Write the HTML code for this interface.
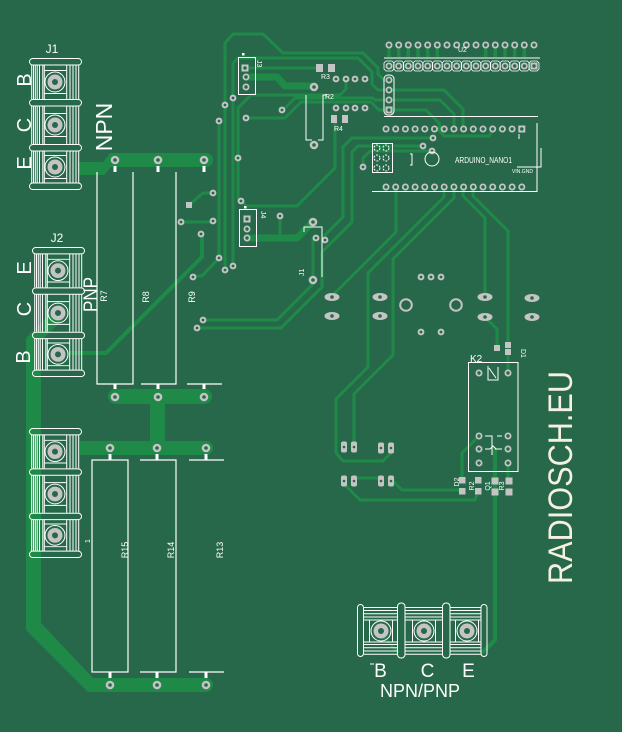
<!DOCTYPE html>
<html><head><meta charset="utf-8">
<style>
html,body{margin:0;padding:0;background:#27684a;}
svg{display:block;}
text{font-family:"Liberation Sans",sans-serif;fill:#fff;}
</style></head><body>
<svg width="622" height="732" viewBox="0 0 622 732" xmlns="http://www.w3.org/2000/svg">
<defs>
<g id="v"><circle r="3.4" fill="#c4c4c4"/><circle r="1.4" fill="#27684a"/></g>
<g id="p"><circle r="3.5" fill="#c4c4c4"/><circle r="1.7" fill="#27684a"/></g>
<g id="ps"><rect x="-3.5" y="-3.5" width="7" height="7" fill="#c4c4c4"/><circle r="1.7" fill="#27684a"/></g>
<g id="rp"><circle r="4.3" fill="#c4c4c4"/><circle r="1.8" fill="#27684a"/></g>
<g id="ov"><ellipse rx="7.5" ry="4" fill="#c4c4c4"/><circle r="1.8" fill="#27684a"/></g>
<g id="oct"><polygon points="-3,-5 3,-5 5,-3 5,3 3,5 -3,5 -5,3 -5,-3" fill="none" stroke="#fff" stroke-width="0.8"/></g>
<g id="sp"><rect x="-3" y="-5.5" width="6" height="11" rx="2" fill="#c4c4c4"/><circle r="1.3" fill="#27684a"/></g>
<g id="tbv">
<g fill="none" stroke="#fff" stroke-width="1">
<rect x="0.5" y="0.5" width="52" height="6.5" rx="3.2"/>
<rect x="0.5" y="41.5" width="52" height="6.5" rx="3.2"/>
<rect x="0.5" y="86.5" width="52" height="6.5" rx="3.2"/>
<rect x="0.5" y="125" width="52" height="6.5" rx="3.2"/>
<path d="M2.7 7V41M4.5 7V41M6.3 7V41M8.2 7V41M10.5 7V41M13.8 7V41M15.3 7V41M37.7 7V41M41 7V41M44 7V41M47 7V41M49.7 7V41M15.3 12.5H37.7M15.3 35.5H37.7M2.7 48V86M4.5 48V86M6.3 48V86M8.2 48V86M10.5 48V86M13.8 48V86M15.3 48V86M37.7 48V86M41 48V86M44 48V86M47 48V86M49.7 48V86M15.3 55.5H37.7M15.3 78.5H37.7M2.7 93V125M4.5 93V125M6.3 93V125M8.2 93V125M10.5 93V125M13.8 93V125M15.3 93V125M37.7 93V125M41 93V125M44 93V125M47 93V125M49.7 93V125M15.3 97.5H37.7M15.3 120.5H37.7"/>
<circle cx="26" cy="24" r="10"/><circle cx="26" cy="67" r="10"/><circle cx="26" cy="109" r="10"/>
</g>
<circle cx="26" cy="24" r="7.5" fill="#c4c4c4"/><circle cx="26" cy="24" r="3" fill="#27684a"/>
<circle cx="26" cy="67" r="7.5" fill="#c4c4c4"/><circle cx="26" cy="67" r="3" fill="#27684a"/>
<circle cx="26" cy="109" r="7.5" fill="#c4c4c4"/><circle cx="26" cy="109" r="3" fill="#27684a"/>
</g>
<g id="tbh">
<g fill="none" stroke="#fff" stroke-width="1">
<rect x="0.5" y="0.5" width="6" height="52" rx="3"/>
<rect x="40.5" y="-1" width="7.5" height="55" rx="3.5"/>
<rect x="85.5" y="-1" width="7.5" height="55" rx="3.5"/>
<rect x="124" y="0.5" width="6" height="52" rx="3"/>
<path d="M7 3.5H40M7 6.5H40M7 9.7H40M7 13H40M7 16H40M7 38H40M7 40.5H40M7 43.7H40M7 47H40M7 50.3H40M12.5 16V38M35.5 16V38M48 3.5H85M48 6.5H85M48 9.7H85M48 13H85M48 16H85M48 38H85M48 40.5H85M48 43.7H85M48 47H85M48 50.3H85M55.5 16V38M78.5 16V38M93 3.5H124M93 6.5H124M93 9.7H124M93 13H124M93 16H124M93 38H124M93 40.5H124M93 43.7H124M93 47H124M93 50.3H124M98.5 16V38M121.5 16V38"/>
<circle cx="24" cy="27" r="10"/><circle cx="67" cy="27" r="10"/><circle cx="110" cy="27" r="10"/>
</g>
<circle cx="24" cy="27" r="7.5" fill="#c4c4c4"/><circle cx="24" cy="27" r="3" fill="#27684a"/>
<circle cx="67" cy="27" r="7.5" fill="#c4c4c4"/><circle cx="67" cy="27" r="3" fill="#27684a"/>
<circle cx="110" cy="27" r="7.5" fill="#c4c4c4"/><circle cx="110" cy="27" r="3" fill="#27684a"/>
</g>
</defs>

<rect width="622" height="732" fill="#27684a"/>

<!-- thin traces -->
<g fill="none" stroke="#1f8a48" stroke-width="3" stroke-linejoin="round" stroke-linecap="round">
<path d="M225,270V43L233,34H263L283,53H363L378,68V74L384,80H389"/>
<path d="M233,266V63L238,58H358L372,72V84L378,90H389"/>
<path d="M247,118H285L301,102H371L379,110H389"/>
<path d="M282,111L295,98H373L375,100H389"/>
<path d="M238,200V108L251,95H340L346,89V79"/>
<path d="M238,198L246,206H297L335,168V120"/>
<path d="M219,121V258"/>
<path d="M213,193H203L189,205"/>
<path d="M181,222H213"/>
<path d="M219,258L202,276H193"/>
<path d="M203,320H277L313,284V238"/>
<path d="M197,328H281L322,287V252L352,222V152L358,146H423"/>
<path d="M433,138H352L343,147V217L325,235V240"/>
<path d="M432,151H370L363,158V167"/>
<path d="M247,68H320"/>
<path d="M280,216V238"/>
<path d="M396,187V232L332,296"/>
<path d="M444,187V197L368,273V367L336,399V453L343,461H383L391,453V448"/>
<path d="M454,187V198L393,259V355L354,394V447"/>
<path d="M463,187V196L485,218V297"/>
<path d="M473,187V196L508,231V373"/>
<path d="M485,317L497,329V348"/>
<path d="M389,90H444L463,109V129"/>
<path d="M389,100H440L454,114V129"/>
<path d="M389,110H426L439.5,123.5V131L444,136H489L493,130"/>
<path d="M392,480L402,490H462"/>
<path d="M344,484L360,500H475L478,492"/>
<path d="M354,478H381"/>
<path d="M462,480V453L479,436"/>
<path d="M508,463V481"/>
<path d="M383,637L398,652"/>
<path d="M495,449V640L483,652" stroke-width="4"/>
<path d="M202,234V257L106,353H70" stroke-width="4"/>
<path d="M247,77H277L285,86H314" stroke-width="7"/>
<path d="M247,238H297L313,222" stroke-width="7"/>
<path d="M389,45V57M398.7,45V57M408.3,45V57M418,45V57M427.7,45V57M437.3,45V57M485.7,45V57M495.3,45V57M505,45V57M514.7,45V57M524.3,45V57" stroke-width="3.5" stroke-linecap="butt"/>
</g>

<!-- thick bands -->
<g fill="#1f8a48">
<path d="M78,162H103L110,153H206A7,7 0 0 1 206,167H111L104,175H78Z"/>
<rect x="108" y="389" width="104" height="15" rx="7.5"/>
<rect x="150" y="397" width="15" height="51"/>
<path d="M80,441H206A7,7 0 0 1 206,455H80Z"/>
<path d="M26,338L52,312L62,320L41,341V623L93,678H206A7,7 0 0 1 206,692H88L26,630Z"/>
</g>

<!-- terminal blocks -->
<use href="#tbv" x="29" y="58"/>
<g transform="translate(32,247) scale(1,0.985)"><use href="#tbv"/></g>
<g transform="translate(29,428) scale(1,0.985)"><use href="#tbv"/></g>
<use href="#tbh" x="357" y="604"/>

<!-- resistor pads -->
<use href="#rp" x="115" y="160"/><use href="#rp" x="158" y="160"/><use href="#rp" x="204" y="160"/>
<use href="#rp" x="115" y="397"/><use href="#rp" x="158" y="397"/><use href="#rp" x="204" y="397"/>
<use href="#rp" x="110" y="448"/><use href="#rp" x="157" y="448"/><use href="#rp" x="206" y="448"/>
<use href="#rp" x="110" y="685"/><use href="#rp" x="157" y="685"/><use href="#rp" x="206" y="685"/>

<!-- resistor silk -->
<g fill="none" stroke="#fff" stroke-width="1.2">
<path d="M97,172V384H133V172M176,172V384H141M187,384H222"/>
<rect x="92" y="460" width="36" height="212"/>
<path d="M140,460H176V672H140M189,460H224M189,672H224"/>
</g>
<g fill="#fff">
<rect x="113.5" y="166" width="3" height="6"/><rect x="156.5" y="166" width="3" height="6"/><rect x="202.5" y="166" width="3" height="6"/>
<rect x="113.5" y="384" width="3" height="5"/><rect x="156.5" y="384" width="3" height="5"/><rect x="202.5" y="384" width="3" height="5"/>
<rect x="108.5" y="454" width="3" height="6"/><rect x="155.5" y="454" width="3" height="6"/><rect x="204.5" y="454" width="3" height="6"/>
<rect x="108.5" y="672" width="3" height="6"/><rect x="155.5" y="672" width="3" height="6"/><rect x="204.5" y="672" width="3" height="6"/>
</g>

<!-- vias -->
<g>
<use href="#v" x="213" y="193"/><use href="#v" x="181" y="222"/><use href="#v" x="213" y="221"/>
<use href="#v" x="201" y="234"/><use href="#v" x="219" y="258"/><use href="#v" x="193" y="277"/>
<use href="#v" x="203" y="320"/><use href="#v" x="197" y="328"/><use href="#v" x="225" y="270"/>
<use href="#v" x="233" y="266"/><use href="#v" x="219" y="121"/><use href="#v" x="225" y="105"/>
<use href="#v" x="233" y="98"/><use href="#v" x="238" y="158"/><use href="#v" x="241" y="201"/>
<use href="#v" x="246" y="118"/><use href="#v" x="282" y="110"/><use href="#rp" x="314" y="87"/>
<use href="#rp" x="314" y="145"/><use href="#v" x="280" y="216"/><use href="#rp" x="313" y="222"/>
<use href="#v" x="316" y="238"/><use href="#v" x="325" y="240"/><use href="#rp" x="313" y="280"/>
<use href="#v" x="363" y="167"/><use href="#v" x="433" y="138"/><use href="#v" x="423" y="146"/>
<use href="#v" x="432" y="151"/>
<use href="#v" x="336" y="79"/><use href="#v" x="346" y="79"/><use href="#v" x="355" y="79"/><use href="#v" x="365" y="79"/>
<use href="#v" x="336" y="108"/><use href="#v" x="346" y="108"/><use href="#v" x="355" y="108"/><use href="#v" x="365" y="108"/>
<rect x="186" y="202" width="6" height="6" fill="#c4c4c4"/>
<use href="#v" x="421" y="277"/><use href="#v" x="431" y="277"/><use href="#v" x="441" y="277"/>
<use href="#v" x="421" y="332"/><use href="#v" x="441" y="332"/>
</g>

<!-- connectors small -->
<g fill="none" stroke="#fff" stroke-width="1">
<rect x="238.5" y="57.5" width="17" height="37"/>
<rect x="239.5" y="209.5" width="17" height="37"/>
<path d="M306,95V140H312M318,140H323V95H327"/>
<path d="M304,232V227H322V277"/>
</g>
<use href="#ps" x="245" y="68"/><use href="#p" x="246" y="77"/><use href="#p" x="246" y="87"/>
<use href="#ps" x="247" y="219"/><use href="#p" x="247" y="229"/><use href="#p" x="247" y="238"/>
<rect x="242" y="53" width="2.5" height="2.5" fill="#fff"/>
<rect x="244" y="206" width="2.5" height="2.5" fill="#fff"/>
<g fill="#c4c4c4">
<rect x="316" y="64" width="7" height="8"/><rect x="328" y="64" width="7" height="8"/>
<rect x="331" y="115" width="6" height="8"/><rect x="342" y="115" width="6" height="8"/>
</g>

<!-- center parts -->
<use href="#ov" x="332" y="297"/><use href="#ov" x="332" y="316"/>
<use href="#ov" x="380" y="297"/><use href="#ov" x="380" y="316"/>
<use href="#ov" x="485" y="297"/><use href="#ov" x="485" y="317"/>
<use href="#ov" x="532" y="298"/><use href="#ov" x="532" y="317"/>
<circle cx="406" cy="305" r="5.8" fill="none" stroke="#c4c4c4" stroke-width="2"/>
<circle cx="456" cy="305" r="5.8" fill="none" stroke="#c4c4c4" stroke-width="2"/>
<use href="#sp" x="344" y="447"/><use href="#sp" x="354" y="447"/><use href="#sp" x="381" y="448"/><use href="#sp" x="391" y="448"/>
<use href="#sp" x="344" y="481"/><use href="#sp" x="354" y="481"/><use href="#sp" x="381" y="481"/><use href="#sp" x="391" y="481"/>

<!-- K2 relay -->
<rect x="468.5" y="362.5" width="49.5" height="109" fill="none" stroke="#fff" stroke-width="1"/>
<g fill="none" stroke="#fff" stroke-width="1">
<path d="M488,366V380H498V367M489,368L496,378"/>
<path d="M485,436H492V455M497,436H502M485,449H490M495,449H502M490,449L493,446L496,449"/>
</g>
<use href="#p" x="479" y="373"/><use href="#p" x="508" y="373"/>
<use href="#p" x="479" y="436"/><use href="#p" x="508" y="436"/>
<use href="#p" x="479" y="449"/><use href="#p" x="508" y="449"/>
<use href="#p" x="479" y="463"/><use href="#p" x="508" y="463"/>
<g fill="#c4c4c4">
<rect x="494" y="345" width="6" height="6"/><rect x="505" y="342" width="6" height="6"/><rect x="505" y="349" width="6" height="6"/>
<rect x="459" y="477" width="6.5" height="6.5"/><rect x="459" y="488" width="6.5" height="6.5"/>
<rect x="475" y="477" width="6.5" height="6.5"/><rect x="475" y="488" width="6.5" height="6.5"/>
<rect x="491.5" y="477.5" width="7" height="7"/><rect x="491.5" y="488.5" width="7" height="7"/>
<rect x="505.5" y="477.5" width="7" height="7"/><rect x="505.5" y="488.5" width="7" height="7"/>
</g>

<!-- Arduino headers -->
<g fill="none" stroke="#fff" stroke-width="1">
<path d="M384,58H540M384,116.5H538M372,191.5H537V123M541,148V167H517"/>
<rect x="384" y="75" width="10" height="40" rx="4"/>
<rect x="372.5" y="143.5" width="20" height="29"/>
<circle cx="432" cy="159" r="7"/>
<path d="M410,154H412V165H410M519,134V139"/>
<g stroke-dasharray="2,1.2">
<circle cx="377" cy="148" r="3"/><circle cx="386" cy="148" r="3"/>
<circle cx="377" cy="158" r="3"/><circle cx="386" cy="158" r="3"/>
<circle cx="377" cy="168" r="3"/><circle cx="386" cy="168" r="3"/>
</g>
</g>
<g>
<use href="#oct" x="389" y="66"/><use href="#oct" x="398.7" y="66"/><use href="#oct" x="408.3" y="66"/><use href="#oct" x="418" y="66"/>
<use href="#oct" x="427.7" y="66"/><use href="#oct" x="437.3" y="66"/><use href="#oct" x="447" y="66"/><use href="#oct" x="456.7" y="66"/>
<use href="#oct" x="466.3" y="66"/><use href="#oct" x="476" y="66"/><use href="#oct" x="485.7" y="66"/><use href="#oct" x="495.3" y="66"/>
<use href="#oct" x="505" y="66"/><use href="#oct" x="514.7" y="66"/><use href="#oct" x="524.3" y="66"/><use href="#oct" x="534" y="66"/>
</g>
<g>
<use href="#p" x="389" y="45"/><use href="#p" x="398.7" y="45"/><use href="#p" x="408.3" y="45"/><use href="#p" x="418" y="45"/>
<use href="#p" x="427.7" y="45"/><use href="#p" x="437.3" y="45"/><use href="#p" x="447" y="45"/><use href="#p" x="456.7" y="45"/>
<use href="#p" x="466.3" y="45"/><use href="#p" x="476" y="45"/><use href="#p" x="485.7" y="45"/><use href="#p" x="495.3" y="45"/>
<use href="#p" x="505" y="45"/><use href="#p" x="514.7" y="45"/><use href="#p" x="524.3" y="45"/><use href="#p" x="534" y="45"/>
<use href="#p" x="389" y="66"/><use href="#p" x="398.7" y="66"/><use href="#p" x="408.3" y="66"/><use href="#p" x="418" y="66"/>
<use href="#p" x="427.7" y="66"/><use href="#p" x="437.3" y="66"/><use href="#p" x="447" y="66"/><use href="#p" x="456.7" y="66"/>
<use href="#p" x="466.3" y="66"/><use href="#p" x="476" y="66"/><use href="#p" x="485.7" y="66"/><use href="#p" x="495.3" y="66"/>
<use href="#p" x="505" y="66"/><use href="#p" x="514.7" y="66"/><use href="#p" x="524.3" y="66"/><use href="#ps" x="534" y="66"/>
<use href="#p" x="389" y="80"/><use href="#p" x="389" y="90"/><use href="#p" x="389" y="100"/><use href="#ps" x="389" y="110"/>
<use href="#p" x="386" y="129"/><use href="#p" x="395.7" y="129"/><use href="#p" x="405.4" y="129"/><use href="#p" x="415.1" y="129"/>
<use href="#p" x="424.8" y="129"/><use href="#p" x="434.5" y="129"/><use href="#p" x="444.2" y="129"/><use href="#p" x="453.9" y="129"/>
<use href="#p" x="463.6" y="129"/><use href="#p" x="473.3" y="129"/><use href="#p" x="483" y="129"/><use href="#p" x="492.7" y="129"/>
<use href="#p" x="502.4" y="129"/><use href="#p" x="512.1" y="129"/><use href="#ps" x="521.8" y="129"/>
<use href="#p" x="386" y="187"/><use href="#p" x="395.7" y="187"/><use href="#p" x="405.4" y="187"/><use href="#p" x="415.1" y="187"/>
<use href="#p" x="424.8" y="187"/><use href="#p" x="434.5" y="187"/><use href="#p" x="444.2" y="187"/><use href="#p" x="453.9" y="187"/>
<use href="#p" x="463.6" y="187"/><use href="#p" x="473.3" y="187"/><use href="#p" x="483" y="187"/><use href="#p" x="492.7" y="187"/>
<use href="#p" x="502.4" y="187"/><use href="#p" x="512.1" y="187"/><use href="#p" x="521.8" y="187"/>
</g>

<!-- texts -->
<text x="52" y="53" font-size="12" text-anchor="middle">J1</text>
<text x="57" y="242" font-size="12" text-anchor="middle">J2</text>
<text transform="translate(31,80) rotate(-90)" font-size="20" text-anchor="middle">B</text>
<text transform="translate(31,125) rotate(-90)" font-size="20" text-anchor="middle">C</text>
<text transform="translate(31,163) rotate(-90)" font-size="20" text-anchor="middle">E</text>
<text transform="translate(112,127) rotate(-90)" font-size="23" text-anchor="middle">NPN</text>
<text transform="translate(31,268) rotate(-90)" font-size="20" text-anchor="middle">E</text>
<text transform="translate(31,309) rotate(-90)" font-size="20" text-anchor="middle">C</text>
<text transform="translate(30,357) rotate(-90)" font-size="20" text-anchor="middle">B</text>
<text transform="translate(97,312) rotate(-90)" font-size="19" textLength="35" lengthAdjust="spacingAndGlyphs">PNP</text>
<g font-size="9" text-anchor="middle">
<text transform="translate(107,296) rotate(-90)">R7</text>
<text transform="translate(149,297) rotate(-90)">R8</text>
<text transform="translate(195,297) rotate(-90)">R9</text>
<text transform="translate(128,550) rotate(-90)">R15</text>
<text transform="translate(174,550) rotate(-90)">R14</text>
<text transform="translate(223,550) rotate(-90)">R13</text>
</g>
<g font-size="7">
<text transform="translate(90,543) rotate(-90)">1</text>
<text transform="translate(257,60) rotate(90)">J3</text>
<text transform="translate(261,211) rotate(90)">J4</text>
<text transform="translate(304,276) rotate(-90)">J1</text>
<text x="321" y="79">R3</text>
<text x="325" y="99">R2</text>
<text x="334" y="131">R4</text>
<text transform="translate(521,349) rotate(90)">D1</text>
<text transform="translate(459,482) rotate(-90)" text-anchor="middle">D2</text>
<text transform="translate(474,486) rotate(-90)" text-anchor="middle">R2</text>
<text transform="translate(490,486) rotate(-90)" text-anchor="middle">Q1</text>
<text transform="translate(504,486) rotate(-90)" text-anchor="middle">R3</text>
<text x="458" y="52">U2</text>
</g>
<text x="470" y="362" font-size="10">K2</text>
<text x="455" y="163" font-size="8" textLength="57" lengthAdjust="spacingAndGlyphs">ARDUINO_NANO1</text>
<text x="512" y="173" font-size="5" textLength="21" lengthAdjust="spacingAndGlyphs">VIN.GND</text>
<text x="380.5" y="677" font-size="19" text-anchor="middle">B</text>
<text x="427.5" y="677" font-size="19" text-anchor="middle">C</text>
<text x="468.5" y="677" font-size="19" text-anchor="middle">E</text>
<path d="M370,664H374" stroke="#fff" stroke-width="1"/>
<text x="420" y="697" font-size="18" text-anchor="middle">NPN/PNP</text>
<text transform="translate(572,584) rotate(-90)" font-size="34" textLength="213" lengthAdjust="spacingAndGlyphs" style="fill:#f4f1e1">RADIOSCH.EU</text>
</svg>
</body></html>
